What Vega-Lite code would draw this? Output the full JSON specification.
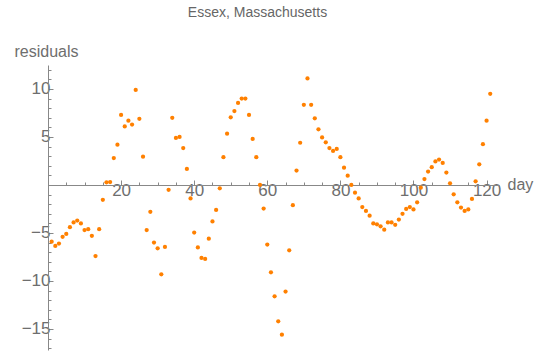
{
  "$schema": "https://vega.github.io/schema/vega-lite/v6.json",
  "autosize": {"type": "none"},
  "padding": {"left": 48, "top": 65, "right": 47, "bottom": 4},
  "width": 451,
  "height": 285,
  "title": {"text": "Essex, Massachusetts", "anchor": "middle", "frame": "group", "dx": -16, "fontSize": 14, "fontWeight": "normal", "color": "#666666", "font": "Liberation Sans", "offset": 23},
  "data": {"values": [
    {"day": 1, "residual": -5.9}, {"day": 2, "residual": -6.35}, {"day": 3, "residual": -6.1}, {"day": 4, "residual": -5.4},
    {"day": 5, "residual": -5.1}, {"day": 6, "residual": -4.4}, {"day": 7, "residual": -3.9}, {"day": 8, "residual": -3.7},
    {"day": 9, "residual": -4.0}, {"day": 10, "residual": -4.7}, {"day": 11, "residual": -4.6}, {"day": 12, "residual": -5.3},
    {"day": 13, "residual": -7.4}, {"day": 14, "residual": -4.6}, {"day": 15, "residual": -1.55}, {"day": 16, "residual": 0.28},
    {"day": 17, "residual": 0.31}, {"day": 18, "residual": 2.8}, {"day": 19, "residual": 4.2}, {"day": 20, "residual": 7.3},
    {"day": 21, "residual": 6.1}, {"day": 22, "residual": 6.7}, {"day": 23, "residual": 6.3}, {"day": 24, "residual": 9.9},
    {"day": 25, "residual": 6.9}, {"day": 26, "residual": 2.95}, {"day": 27, "residual": -4.7}, {"day": 28, "residual": -2.8},
    {"day": 29, "residual": -6.0}, {"day": 30, "residual": -6.6}, {"day": 31, "residual": -9.3}, {"day": 32, "residual": -6.45},
    {"day": 33, "residual": -0.5}, {"day": 34, "residual": 7.0}, {"day": 35, "residual": 4.9}, {"day": 36, "residual": 5.0},
    {"day": 37, "residual": 3.85}, {"day": 38, "residual": 1.67}, {"day": 39, "residual": -1.4}, {"day": 40, "residual": -4.95},
    {"day": 41, "residual": -6.5}, {"day": 42, "residual": -7.6}, {"day": 43, "residual": -7.7}, {"day": 44, "residual": -5.6},
    {"day": 45, "residual": -3.8}, {"day": 46, "residual": -2.6}, {"day": 47, "residual": -0.35}, {"day": 48, "residual": 2.9},
    {"day": 49, "residual": 5.35}, {"day": 50, "residual": 7.05}, {"day": 51, "residual": 7.7}, {"day": 52, "residual": 8.55},
    {"day": 53, "residual": 9.0}, {"day": 54, "residual": 9.0}, {"day": 55, "residual": 7.3}, {"day": 56, "residual": 4.8},
    {"day": 57, "residual": 2.9}, {"day": 58, "residual": 0.0}, {"day": 59, "residual": -2.45}, {"day": 60, "residual": -6.2},
    {"day": 61, "residual": -9.1}, {"day": 62, "residual": -11.6}, {"day": 63, "residual": -14.2}, {"day": 64, "residual": -15.6},
    {"day": 65, "residual": -11.1}, {"day": 66, "residual": -6.8}, {"day": 67, "residual": -2.1}, {"day": 68, "residual": 1.5},
    {"day": 69, "residual": 4.4}, {"day": 70, "residual": 8.35}, {"day": 71, "residual": 11.1}, {"day": 72, "residual": 8.35},
    {"day": 73, "residual": 6.95}, {"day": 74, "residual": 5.8}, {"day": 75, "residual": 4.95}, {"day": 76, "residual": 4.45},
    {"day": 77, "residual": 3.85}, {"day": 78, "residual": 3.55}, {"day": 79, "residual": 3.75}, {"day": 80, "residual": 2.9},
    {"day": 81, "residual": 1.8}, {"day": 82, "residual": 0.97}, {"day": 83, "residual": 0.0}, {"day": 84, "residual": -0.8},
    {"day": 85, "residual": -1.4}, {"day": 86, "residual": -2.3}, {"day": 87, "residual": -2.7}, {"day": 88, "residual": -3.2},
    {"day": 89, "residual": -4.0}, {"day": 90, "residual": -4.1}, {"day": 91, "residual": -4.3}, {"day": 92, "residual": -4.65},
    {"day": 93, "residual": -3.9}, {"day": 94, "residual": -3.9}, {"day": 95, "residual": -4.15}, {"day": 96, "residual": -3.6},
    {"day": 97, "residual": -3.0}, {"day": 98, "residual": -2.5}, {"day": 99, "residual": -2.3}, {"day": 100, "residual": -2.55},
    {"day": 101, "residual": -1.8}, {"day": 102, "residual": -0.28}, {"day": 103, "residual": 0.62}, {"day": 104, "residual": 1.4},
    {"day": 105, "residual": 1.85}, {"day": 106, "residual": 2.45}, {"day": 107, "residual": 2.65}, {"day": 108, "residual": 2.3},
    {"day": 109, "residual": 1.3}, {"day": 110, "residual": 0.17}, {"day": 111, "residual": -0.97}, {"day": 112, "residual": -1.8},
    {"day": 113, "residual": -2.35}, {"day": 114, "residual": -2.7}, {"day": 115, "residual": -2.55}, {"day": 116, "residual": -1.45},
    {"day": 117, "residual": 0.38}, {"day": 118, "residual": 2.15}, {"day": 119, "residual": 4.25}, {"day": 120, "residual": 6.7},
    {"day": 121, "residual": 9.5}
  ]},
  "resolve": {"axis": {"x": "independent", "y": "independent"}},
  "layer": [
    {
      "mark": {"type": "circle", "opacity": 0},
      "encoding": {
        "x": {"field": "day", "type": "quantitative", "scale": {"domain": [0, 123.4], "nice": false, "zero": false},
          "axis": {"orient": "bottom", "offset": -165, "values": [5, 10, 15, 25, 30, 35, 45, 50, 55, 65, 70, 75, 85, 90, 95, 105, 110, 115],
            "labels": false, "domain": false, "grid": false, "tickSize": -3, "tickColor": "#888888", "title": null}},
        "y": {"field": "residual", "type": "quantitative", "scale": {"domain": [-17.19, 12.5], "nice": false, "zero": false},
          "axis": {"orient": "left", "values": [-17, -16, -14, -13, -12, -11, -9, -8, -7, -6, -4, -3, -2, -1, 1, 2, 3, 4, 6, 7, 8, 9, 11, 12],
            "labels": false, "domain": false, "grid": false, "tickSize": -3, "tickColor": "#888888", "title": null}}
      }
    },
    {
      "mark": {"type": "circle", "color": "#ff8000", "opacity": 1, "size": 18},
      "encoding": {
        "x": {"field": "day", "type": "quantitative",
          "axis": {"orient": "bottom", "offset": -165, "values": [20, 40, 60, 80, 100, 120], "grid": false,
            "tickSize": -5, "tickColor": "#888888", "domainColor": "#888888", "labelPadding": 2,
            "labelFont": "Liberation Sans", "labelFontSize": 17, "labelColor": "#6e6e6e",
            "title": "day", "titleFont": "Liberation Sans", "titleFontSize": 16, "titleFontWeight": "normal", "titleColor": "#6e6e6e",
            "titleAlign": "left", "titleBaseline": "alphabetic", "titleX": 459, "titleY": 4, "titleAngle": 0}},
        "y": {"field": "residual", "type": "quantitative",
          "axis": {"orient": "left", "values": [-15, -10, -5, 5, 10], "grid": false,
            "tickSize": -5, "tickColor": "#888888", "domainColor": "#888888", "labelPadding": 3,
            "labelFont": "Liberation Sans", "labelFontSize": 17, "labelColor": "#6e6e6e",
            "title": "residuals", "titleFont": "Liberation Sans", "titleFontSize": 16, "titleFontWeight": "normal", "titleColor": "#6e6e6e",
            "titleAlign": "left", "titleBaseline": "alphabetic", "titleX": -34, "titleY": -9, "titleAngle": 0}}
      }
    }
  ],
  "config": {"view": {"stroke": null}}
}
